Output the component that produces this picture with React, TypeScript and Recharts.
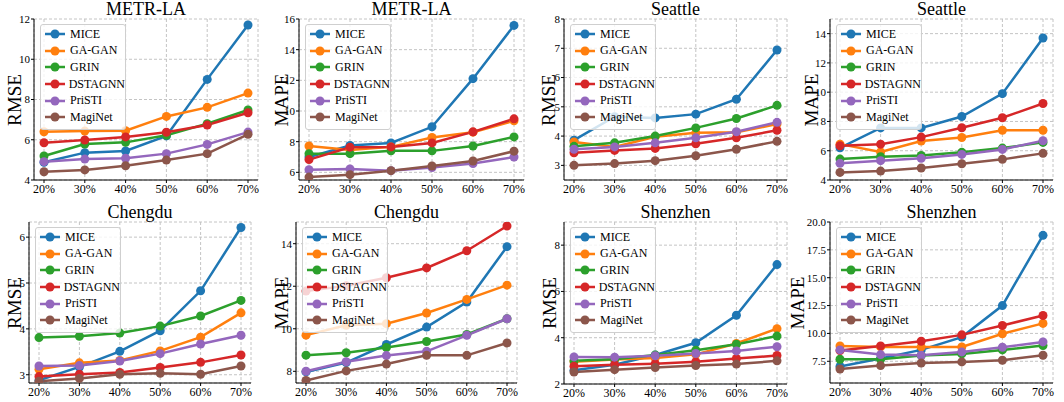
import { LineChart, Line, XAxis, YAxis, CartesianGrid } from 'recharts';

const categories = ['20%', '30%', '40%', '50%', '60%', '70%'];
const methods = ['MICE', 'GA-GAN', 'GRIN', 'DSTAGNN', 'PriSTI', 'MagiNet'];
const colors = ['#1f77b4', '#ff7f0e', '#2ca02c', '#d62728', '#9467bd', '#8c564b'];

// one row per method, in the order of `methods`
const metrLaRmse = [
  [4.88, 5.36, 5.44, 6.19, 9.0, 11.7],
  [6.4, 6.43, 6.45, 7.16, 7.61, 8.32],
  [5.19, 5.79, 5.87, 6.22, 6.8, 7.48],
  [5.85, 5.99, 6.14, 6.37, 6.73, 7.34],
  [4.91, 5.04, 5.08, 5.31, 5.77, 6.38],
  [4.41, 4.5, 4.71, 4.99, 5.31, 6.27],
];
const metrLaMape = [
  [7.0, 7.75, 7.92, 8.97, 12.11, 15.58],
  [7.72, 7.45, 7.66, 8.27, 8.62, 9.36],
  [7.22, 7.22, 7.4, 7.4, 7.72, 8.31],
  [6.83, 7.64, 7.66, 7.92, 8.64, 9.49],
  [6.17, 6.22, 6.11, 6.31, 6.57, 7.0],
  [5.69, 5.85, 6.11, 6.41, 6.74, 7.38],
];
const seattleRmse = [
  [3.86, 4.66, 4.62, 4.75, 5.26, 6.94],
  [3.8, 3.63, 3.98, 4.11, 4.13, 4.41],
  [3.65, 3.77, 4.0, 4.28, 4.6, 5.05],
  [3.43, 3.51, 3.58, 3.74, 3.94, 4.2],
  [3.55, 3.63, 3.77, 3.94, 4.15, 4.47],
  [3.0, 3.06, 3.16, 3.33, 3.55, 3.82],
];
const seattleMape = [
  [6.2, 7.56, 7.56, 8.34, 9.9, 13.7],
  [6.45, 5.91, 6.66, 6.9, 7.4, 7.4],
  [5.43, 5.59, 5.68, 5.89, 6.18, 6.57],
  [6.34, 6.45, 6.93, 7.57, 8.25, 9.23],
  [5.14, 5.32, 5.48, 5.75, 6.09, 6.68],
  [4.52, 4.61, 4.82, 5.11, 5.41, 5.82],
];
const chengduRmse = [
  [2.88, 3.17, 3.51, 3.96, 4.83, 6.21],
  [3.12, 3.26, 3.31, 3.52, 3.82, 4.35],
  [3.81, 3.84, 3.91, 4.06, 4.28, 4.62],
  [2.96, 3.01, 3.05, 3.16, 3.27, 3.43],
  [3.19, 3.2, 3.3, 3.46, 3.67, 3.86],
  [2.86, 2.92, 3.01, 3.03, 3.01, 3.19],
];
const chengduMape = [
  [7.97, 8.41, 9.26, 10.08, 11.26, 13.86],
  [9.7, 10.16, 10.24, 10.74, 11.38, 12.05],
  [8.76, 8.87, 9.12, 9.4, 9.73, 10.47],
  [11.77, 12.02, 12.4, 12.86, 13.67, 14.83],
  [8.0, 8.45, 8.74, 8.94, 9.69, 10.47],
  [7.57, 8.02, 8.34, 8.75, 8.75, 9.33],
];
const shenzhenRmse = [
  [2.59, 2.83, 3.25, 3.78, 4.97, 7.16],
  [2.96, 3.06, 3.12, 3.28, 3.75, 4.39],
  [3.0, 3.07, 3.25, 3.46, 3.72, 4.07],
  [2.77, 2.83, 2.88, 2.96, 3.1, 3.23],
  [3.17, 3.16, 3.22, 3.32, 3.43, 3.61],
  [2.52, 2.62, 2.71, 2.8, 2.86, 3.0],
];
const shenzhenMape = [
  [7.04, 7.74, 8.52, 9.67, 12.5, 18.8],
  [8.88, 8.79, 8.79, 8.79, 9.97, 10.9],
  [7.68, 7.68, 8.01, 8.16, 8.52, 8.91],
  [8.46, 8.88, 9.3, 9.87, 10.71, 11.61],
  [8.52, 8.1, 8.04, 8.34, 8.76, 9.24],
  [6.81, 7.11, 7.35, 7.44, 7.59, 8.04],
];

const FONT = '"Liberation Serif", "Times New Roman", serif';

type Panel = {
  title: string;
  metric: string;
  series: number[][];
  domain: [number, number];
  ticks: number[];
  fmt?: (v: number) => string;
  col: number;
  row: number;
  box: [number, number, number, number]; // plot left, top, right, bottom
  labelX: number;
};

const panels: Panel[] = [
  { title: 'METR-LA', metric: 'RMSE', series: metrLaRmse, domain: [4, 12], ticks: [4, 6, 8, 10, 12], col: 0, row: 0, box: [34, 19, 258, 180], labelX: 14 },
  { title: 'METR-LA', metric: 'MAPE', series: metrLaMape, domain: [5.5, 16], ticks: [6, 8, 10, 12, 14, 16], col: 1, row: 0, box: [299, 19, 524, 180], labelX: 281 },
  { title: 'Seattle', metric: 'RMSE', series: seattleRmse, domain: [2.5, 8], ticks: [3, 4, 5, 6, 7, 8], col: 2, row: 0, box: [564, 19, 787, 180], labelX: 548 },
  { title: 'Seattle', metric: 'MAPE', series: seattleMape, domain: [4, 15], ticks: [4, 6, 8, 10, 12, 14], col: 3, row: 0, box: [830, 19, 1053, 180], labelX: 811 },
  { title: 'Chengdu', metric: 'RMSE', series: chengduRmse, domain: [2.82, 6.33], ticks: [3, 4, 5, 6], col: 0, row: 1, box: [29, 222, 251, 383], labelX: 14 },
  { title: 'Chengdu', metric: 'MAPE', series: chengduMape, domain: [7.45, 15.02], ticks: [8, 10, 12, 14], col: 1, row: 1, box: [296, 222, 517, 383], labelX: 281 },
  { title: 'Shenzhen', metric: 'RMSE', series: shenzhenRmse, domain: [2, 9], ticks: [2, 4, 6, 8], col: 2, row: 1, box: [564, 222, 787, 384], labelX: 549 },
  { title: 'Shenzhen', metric: 'MAPE', series: shenzhenMape, domain: [5.55, 20], ticks: [7.5, 10, 12.5, 15, 17.5, 20], fmt: (v) => v.toFixed(1), col: 3, row: 1, box: [830, 222, 1053, 383], labelX: 797 },
];

const CELL_W = 266;
const CELL_H = 201;
const Y_W = 28;
const X_H = 16;

function PanelChart({ p }: { p: Panel }) {
  const x0 = p.col * CELL_W;
  const y0 = p.row * CELL_H;
  const [l, t, r, b] = p.box;
  const data = categories.map((c, i) => {
    const row: Record<string, string | number> = { cat: c };
    p.series.forEach((s, k) => {
      row['s' + k] = s[i];
    });
    return row;
  });
  const xTick = { fontFamily: FONT, fontSize: 12, fill: '#000' };
  const yTick = { fontFamily: FONT, fontSize: 11, fill: '#000' };

  return (
    <>
      <div style={{ position: 'absolute', left: x0, top: y0 }}>
        <LineChart
          width={CELL_W}
          height={CELL_H}
          data={data}
          margin={{ top: t - y0, right: x0 + CELL_W - r, bottom: y0 + CELL_H - b - X_H, left: l - x0 - Y_W }}
        >
          <CartesianGrid stroke="#c4c4c4" strokeDasharray="3 2" />
          <XAxis
            dataKey="cat"
            height={X_H}
            padding={{ left: 10, right: 10 }}
            tick={xTick}
            tickSize={3}
            tickMargin={1}
            interval={0}
            axisLine={{ stroke: '#000' }}
            tickLine={{ stroke: '#000' }}
          />
          <XAxis
            xAxisId="top"
            orientation="top"
            dataKey="cat"
            height={0}
            padding={{ left: 10, right: 10 }}
            tick={false}
            tickLine={false}
            axisLine={{ stroke: '#000' }}
          />
          <YAxis
            type="number"
            width={Y_W}
            domain={p.domain}
            ticks={p.ticks}
            allowDataOverflow
            interval={0}
            tickFormatter={p.fmt ?? ((v: number) => String(v))}
            tick={yTick}
            tickSize={3}
            tickMargin={1}
            axisLine={{ stroke: '#000' }}
            tickLine={{ stroke: '#000' }}
          />
          <YAxis
            yAxisId="right"
            orientation="right"
            width={0}
            domain={[0, 1]}
            tick={false}
            tickLine={false}
            axisLine={{ stroke: '#000' }}
          />
          {methods.map((m, k) => (
            <Line
              key={m}
              name={m}
              dataKey={'s' + k}
              type="linear"
              stroke={colors[k]}
              strokeWidth={2.5}
              dot={{ r: 4.5, fill: colors[k], stroke: colors[k], strokeWidth: 0 }}
              isAnimationActive={false}
            />
          ))}
        </LineChart>
      </div>
      <div
        style={{
          position: 'absolute',
          left: l,
          width: r - l,
          top: t - 19,
          height: 18,
          lineHeight: '18px',
          textAlign: 'center',
          fontFamily: FONT,
          fontSize: 18,
          color: '#000',
        }}
      >
        {p.title}
      </div>
      <div
        style={{
          position: 'absolute',
          left: p.labelX,
          top: (t + b) / 2,
          transform: 'translate(-50%, -50%) rotate(-90deg)',
          whiteSpace: 'nowrap',
          fontFamily: FONT,
          fontSize: 19,
          lineHeight: '19px',
          color: '#000',
        }}
      >
        {p.metric}
      </div>
      <div
        style={{
          position: 'absolute',
          left: l + 6,
          top: t + 5,
          width: 86,
          padding: '1px 0 3px 0',
          background: 'rgba(255,255,255,0.8)',
          border: '1px solid #cfcfcf',
          borderRadius: 3,
          boxSizing: 'border-box',
        }}
      >
        {methods.map((m, k) => (
          <div key={m} style={{ display: 'flex', alignItems: 'center', height: 16.6 }}>
            <svg width={24} height={10} style={{ marginLeft: 2, marginRight: 3 }}>
              <line x1={2} x2={22} y1={5} y2={5} stroke={colors[k]} strokeWidth={2.5} />
              <circle cx={12} cy={5} r={4.5} fill={colors[k]} />
            </svg>
            <span style={{ fontFamily: FONT, fontSize: 12, color: '#000', whiteSpace: 'nowrap' }}>{m}</span>
          </div>
        ))}
      </div>
    </>
  );
}

export default function App() {
  return (
    <div style={{ position: 'absolute', left: 0, top: 0, width: 1064, height: 402, background: '#fff', overflow: 'hidden' }}>
      {panels.map((p, i) => (
        <PanelChart key={i} p={p} />
      ))}
    </div>
  );
}
